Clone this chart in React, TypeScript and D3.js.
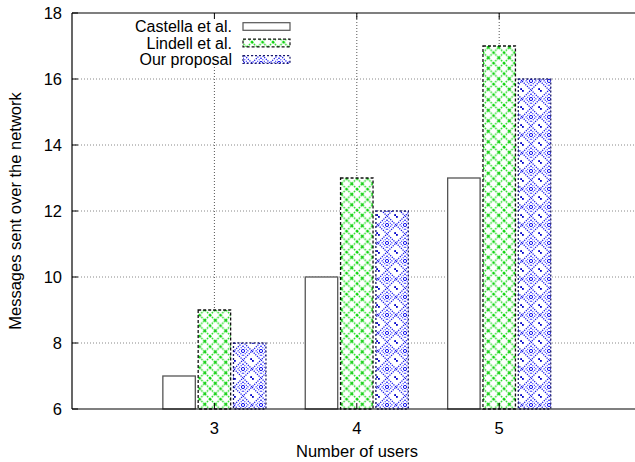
import React from "react";
import * as d3 from "d3";

const categories = [3, 4, 5];
const seriesNames = ["Castella et al.", "Lindell et al.", "Our proposal"];
const castella = [7, 10, 13];
const lindell = [9, 13, 17];
const ourProposal = [8, 12, 16];
const yTicks = [6, 8, 10, 12, 14, 16, 18];

const W = 635;
const H = 462;

export default function App() {
  const x = d3.scaleLinear().domain([2, 6]).range([72, 641.6]);
  const y = d3.scaleLinear().domain([6, 18]).range([409, 13]);
  const series = [castella, lindell, ourProposal];
  const fills = ["#ffffff", "url(#patGreen)", "url(#patBlue)"];
  const strokes = ["#555555", "#111111", "#1a1a6a"];
  const dashes = ["none", "3,2", "2,2"];
  const offsets = [-0.248, 0, 0.248];
  const bw = 0.228;
  const font = "'Liberation Sans', Arial, Helvetica, sans-serif";
  const fs = 16.5;
  const lfs = 16;

  return (
    <svg
      width={W}
      height={H}
      style={{ position: "absolute", left: 0, top: 0, background: "#fff" }}
      fontFamily={font}
    >
      <defs>
        <pattern id="patGreen" width="10.5" height="10.5" patternUnits="userSpaceOnUse">
          <rect width="10.5" height="10.5" fill="#fff" />
          <path d="M0,0 L10.5,10.5 M10.5,0 L0,10.5" stroke="#11dd11" strokeWidth="1.4" strokeDasharray="1.5,1.2" />
          <rect x="4.5" y="4.5" width="1.8" height="1.8" fill="#10c010" />
          <rect x="0" y="0" width="1.3" height="1.3" fill="#10c010" />
        </pattern>
        <pattern id="patBlue" width="18" height="18" patternUnits="userSpaceOnUse">
          <rect width="18" height="18" fill="#fff" />
          <path d="M9,0 L18,9 L9,18 L0,9 Z" fill="none" stroke="#1111ee" strokeWidth="1.3" strokeDasharray="1.2,1.1" />
          <path d="M9,4 L14,9 L9,14 L4,9 Z" fill="none" stroke="#2222ff" strokeWidth="1.1" strokeDasharray="1,1.1" />
          <circle cx="9" cy="9" r="1.6" fill="none" stroke="#1111ee" strokeWidth="1" />
          <rect x="0" y="0" width="1.8" height="1.8" fill="#0000cc" />
          <rect x="16.2" y="16.2" width="1.8" height="1.8" fill="#0000cc" />
        </pattern>
      </defs>

      {/* grid */}
      {yTicks.slice(1, -1).map((t) => (
        <line key={"gy" + t} x1={72} x2={641} y1={y(t)} y2={y(t)} stroke="#888" strokeWidth={1} strokeDasharray="1,2" />
      ))}
      {categories.map((c) => (
        <line key={"gx" + c} x1={x(c)} x2={x(c)} y1={13} y2={409} stroke="#555" strokeWidth={1} strokeDasharray="1,2" />
      ))}

      {/* legend background */}
      <rect x={90} y={14} width={215} height={50} fill="#fff" />

      {/* bars */}
      {series.map((vals, si) =>
        vals.map((v, ci) => {
          const cx = categories[ci] + offsets[si];
          const x0 = x(cx - bw / 2);
          const x1 = x(cx + bw / 2);
          return (
            <rect
              key={si + "-" + ci}
              x={x0}
              y={y(v)}
              width={x1 - x0}
              height={y(6) - y(v)}
              fill={fills[si]}
              stroke={strokes[si]}
              strokeWidth={1.3}
              strokeDasharray={dashes[si]}
            />
          );
        })
      )}

      {/* axes frame */}
      <line x1={72} x2={641} y1={409} y2={409} stroke="#000" strokeWidth={1.2} />
      <line x1={72} x2={641} y1={13} y2={13} stroke="#000" strokeWidth={1.2} />
      <line x1={72} x2={72} y1={13} y2={409} stroke="#000" strokeWidth={1.2} />

      {/* y ticks */}
      {yTicks.map((t) => (
        <g key={"yt" + t}>
          <line x1={72} x2={78} y1={y(t)} y2={y(t)} stroke="#000" strokeWidth={1} />
          <text x={62} y={y(t)} dy="0.36em" textAnchor="end" fontSize={fs}>
            {t}
          </text>
        </g>
      ))}
      {/* x ticks */}
      {categories.map((c) => (
        <g key={"xt" + c}>
          <line x1={x(c)} x2={x(c)} y1={13} y2={19} stroke="#000" strokeWidth={1} />
          <line x1={x(c)} x2={x(c)} y1={409} y2={403} stroke="#000" strokeWidth={1} />
          <text x={x(c)} y={428} dy="0.36em" textAnchor="middle" fontSize={fs}>
            {c}
          </text>
        </g>
      ))}

      {/* axis titles */}
      <text x={357} y={451} dy="0.36em" textAnchor="middle" fontSize={fs}>
        Number of users
      </text>
      <text
        transform={`translate(15,211) rotate(-90)`}
        dy="0.36em"
        textAnchor="middle"
        fontSize={fs}
      >
        Messages sent over the network
      </text>

      {/* legend */}
      {seriesNames.map((n, i) => {
        const cy = 26.5 + i * 16.5;
        return (
          <g key={"lg" + i}>
            <text x={232} y={cy} dy="0.36em" textAnchor="end" fontSize={lfs}>
              {n}
            </text>
            <rect
              x={243}
              y={cy - 3.8}
              width={47}
              height={7.6}
              fill={fills[i]}
              stroke={strokes[i]}
              strokeWidth={1.2}
              strokeDasharray={dashes[i]}
            />
          </g>
        );
      })}
    </svg>
  );
}
